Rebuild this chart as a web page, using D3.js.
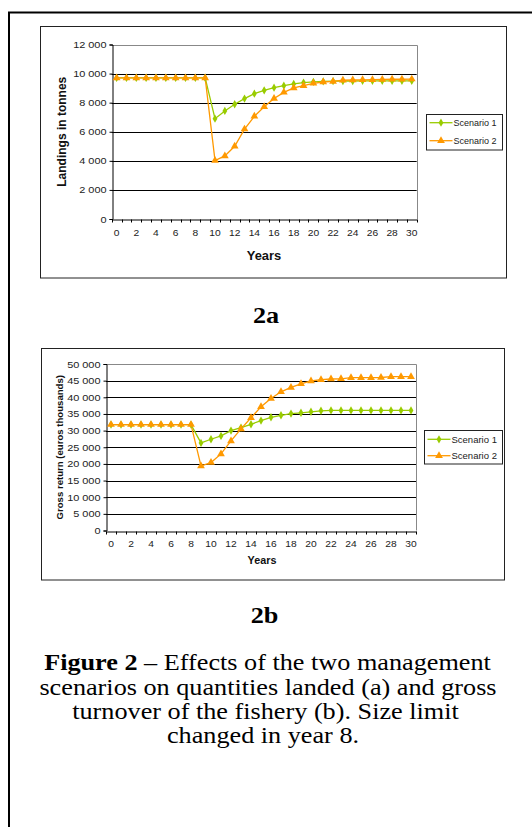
<!DOCTYPE html>
<html>
<head>
<meta charset="utf-8">
<script src="https://cdn.jsdelivr.net/npm/d3@7/dist/d3.min.js"></script>
<style>
  html, body { margin: 0; padding: 0; background: #fff; }
  svg { display: block; }
</style>
</head>
<body>
<svg id="fig" width="532" height="827"></svg>
<script>
// Years of the simulation (category axis)
const years = [0,1,2,3,4,5,6,7,8,9,10,11,12,13,14,15,16,17,18,19,20,21,22,23,24,25,26,27,28,29,30];
const yearTickLabels = [0,2,4,6,8,10,12,14,16,18,20,22,24,26,28,30];
const seriesNames = ["Scenario 1", "Scenario 2"];

// Panel (a): landings in tonnes
const landingsScenario1 = [9700,9700,9700,9700,9700,9700,9700,9700,9700,9700,
  6900,7430,7890,8280,8620,8850,9030,9170,9290,9380,9430,9460,9480,9490,9490,9500,9500,9500,9500,9500,9500];
const landingsScenario2 = [9700,9700,9700,9700,9700,9700,9700,9700,9700,9700,
  4020,4340,5000,6180,7060,7720,8290,8710,9010,9170,9330,9420,9460,9540,9560,9570,9580,9600,9610,9610,9620];
const landingsTicks = [0,2000,4000,6000,8000,10000,12000];

// Panel (b): gross return, euros thousands
const grossScenario1 = [31800,31800,31800,31800,31800,31800,31800,31800,31800,
  26300,27400,28400,30000,30900,31900,33000,34000,34600,35100,35350,35650,35950,36050,36050,36050,36050,36050,36050,36050,36050,36050];
const grossScenario2 = [31800,31800,31800,31800,31800,31800,31800,31800,31800,
  19400,20400,23000,26900,30500,33850,37150,39650,41650,42950,44050,44900,45300,45500,45550,45900,45900,45900,45950,46200,46200,46200];
const grossTicks = [0,5000,10000,15000,20000,25000,30000,35000,40000,45000,50000];

const colors = ["#99cc00", "#ff9900"];
const symbols = [d3.symbolDiamond, d3.symbolTriangle];
const sans = "Arial, 'Liberation Sans', sans-serif";
const serif = "'Times New Roman', 'Liberation Serif', serif";

const fmt = d3.formatLocale({decimal: ".", thousands: " ", grouping: [3], currency: ["", ""]}).format(",d");

// widen glyphs horizontally about each text's anchor point
function widen(sel, k) {
  sel.each(function () {
    const t = d3.select(this);
    const ax = +(t.attr("x") || 0);
    const prev = t.attr("transform") || "";
    t.attr("transform", `${prev} translate(${ax},0) scale(${k},1) translate(${-ax},0)`);
  });
}

const svg = d3.select("#fig");

// page frame
svg.append("rect").attr("x", 9).attr("y", 12.5).attr("width", 540).attr("height", 840)
  .attr("fill", "none").attr("stroke", "#000").attr("stroke-width", 2);

function drawPanel(cfg) {
  const g = svg.append("g");
  g.append("rect").attr("x", cfg.box[0]).attr("y", cfg.box[1]).attr("width", cfg.box[2]).attr("height", cfg.box[3])
    .attr("fill", "#fff").attr("stroke", "#222").attr("stroke-width", 1);

  const x = d3.scaleBand().domain(years).range([cfg.left, cfg.right]).paddingInner(0).paddingOuter(0);
  const y = d3.scaleLinear().domain([0, cfg.max]).range([cfg.bottom, cfg.top]);

  // gridlines
  g.append("g").selectAll("line").data(cfg.ticks.filter(t => t > 0 && t < cfg.max)).join("line")
    .attr("x1", cfg.left).attr("x2", cfg.right)
    .attr("y1", d => Math.round(y(d)) + 0.5).attr("y2", d => Math.round(y(d)) + 0.5)
    .attr("stroke", "#000").attr("stroke-width", 1);

  // plot-area border (top and right)
  g.append("path")
    .attr("d", `M${cfg.left},${Math.round(cfg.top)+0.5}H${Math.round(cfg.right)+0.5}V${cfg.bottom}`)
    .attr("fill", "none").attr("stroke", "#888").attr("stroke-width", 1);

  // y axis
  const yAxis = d3.axisLeft(y).tickValues(cfg.ticks).tickFormat(fmt).tickSize(3).tickPadding(3);
  const ya = g.append("g").attr("transform", `translate(${Math.round(cfg.left)+0.5},0)`).call(yAxis);
  ya.select(".domain").attr("stroke", "#000");
  ya.selectAll(".tick line").attr("stroke", "#000");
  ya.selectAll(".tick text").attr("font-family", sans).attr("font-size", cfg.tickFont).attr("fill", "#222");
  widen(ya.selectAll(".tick text"), 1.15);

  // x axis: labels every second year, tick marks on category boundaries
  const xAxis = d3.axisBottom(x).tickValues(yearTickLabels).tickSize(0).tickPadding(cfg.xPad);
  const xa = g.append("g").attr("transform", `translate(0,${Math.round(cfg.bottom)+0.5})`).call(xAxis);
  xa.select(".domain").attr("stroke", "#000");
  xa.selectAll(".tick text").attr("font-family", sans).attr("font-size", cfg.tickFont).attr("fill", "#222");
  widen(xa.selectAll(".tick text"), 1.08);
  const bounds = years.map(d => x(d)).concat([x(years[years.length - 1]) + x.bandwidth()]);
  xa.append("g").selectAll("line").data(bounds).join("line")
    .attr("x1", d => Math.round(d) + 0.5).attr("x2", d => Math.round(d) + 0.5)
    .attr("y1", 0).attr("y2", 3).attr("stroke", "#000");

  // axis titles
  g.append("text").attr("transform", `translate(${cfg.yTitleX},${(cfg.top + cfg.bottom) / 2}) rotate(-90)`)
    .attr("text-anchor", "middle").attr("dominant-baseline", "central")
    .attr("font-family", sans).attr("font-weight", "bold").attr("font-size", cfg.yTitleFont)
    .attr("fill", "#111").text(cfg.yTitle);
  const xt = g.append("text").attr("x", cfg.xTitleX).attr("y", cfg.xTitleY)
    .attr("text-anchor", "middle").attr("dominant-baseline", "central")
    .attr("font-family", sans).attr("font-weight", "bold").attr("font-size", cfg.xTitleFont)
    .attr("fill", "#111").text("Years");
  widen(xt, 1.08);

  // series
  const cx = d => x(d) + x.bandwidth() / 2;
  const line = d3.line().x((v, i) => cx(years[i])).y(v => y(v));
  cfg.series.forEach((vals, s) => {
    g.append("path").datum(vals).attr("d", line)
      .attr("fill", "none").attr("stroke", colors[s]).attr("stroke-width", 1.3);
  });
  cfg.series.forEach((vals, s) => {
    g.append("g").selectAll("path").data(vals).join("path")
      .attr("transform", (v, i) => `translate(${cx(years[i])},${y(v)})`)
      .attr("d", d3.symbol().type(symbols[s]).size(s === 0 ? 20 : 26))
      .attr("fill", colors[s]);
  });

  // legend
  const L = cfg.legend;
  g.append("rect").attr("x", L.x).attr("y", L.y).attr("width", L.w).attr("height", L.h)
    .attr("fill", "#fff").attr("stroke", "#222").attr("stroke-width", 1);
  seriesNames.forEach((name, s) => {
    const ly = L.rows[s];
    g.append("line").attr("x1", L.x + 3).attr("x2", L.x + 26).attr("y1", ly).attr("y2", ly)
      .attr("stroke", colors[s]).attr("stroke-width", 1.3);
    g.append("path").attr("transform", `translate(${L.x + 14.5},${ly})`)
      .attr("d", d3.symbol().type(symbols[s]).size(s === 0 ? 20 : 26)).attr("fill", colors[s]);
    g.append("text").attr("x", L.x + 27).attr("y", ly).attr("dominant-baseline", "central")
      .attr("font-family", sans).attr("font-size", L.font).attr("fill", "#222").text(name);
  });
}

drawPanel({
  box: [40.5, 26.5, 466, 251.5],
  left: 111.7, right: 416.7, top: 44.5, bottom: 219,
  max: 12000, ticks: landingsTicks, tickFont: "9.5px", xPad: 10,
  series: [landingsScenario1, landingsScenario2],
  yTitle: "Landings in tonnes", yTitleX: 61.5, yTitleFont: "12px",
  xTitleX: 264, xTitleY: 256, xTitleFont: "12px",
  legend: {x: 426.5, y: 114.5, w: 76, h: 35.5, rows: [122.7, 140.7], font: "9px"}
});

drawPanel({
  box: [41.5, 348.5, 463, 231.5],
  left: 106, right: 416, top: 364, bottom: 530.5,
  max: 50000, ticks: grossTicks, tickFont: "9.5px", xPad: 9,
  series: [grossScenario1, grossScenario2],
  yTitle: "Gross return (euros thousands)", yTitleX: 59.5, yTitleFont: "9.6px",
  xTitleX: 262, xTitleY: 561, xTitleFont: "10px",
  legend: {x: 424.5, y: 430.5, w: 78, h: 33.5, rows: [439.3, 455.7], font: "9.5px"}
});

// panel labels and caption
const cap = svg.append("g").attr("font-family", serif).attr("fill", "#000").attr("text-anchor", "middle");
const panelLabels = [
  {x: 266, y: 323, text: "2a"},
  {x: 264.5, y: 623, text: "2b"}
];
panelLabels.forEach(c => {
  cap.append("text").attr("x", c.x).attr("y", c.y).attr("font-size", "23px")
    .attr("font-weight", "bold").text(c.text);
});
const l1 = cap.append("text").attr("x", 267.5).attr("y", 670.5).attr("font-size", "23px");
l1.append("tspan").attr("font-weight", "bold").text("Figure 2");
l1.append("tspan").text(" \u2013 Effects of the two management");
cap.append("text").attr("x", 268).attr("y", 695).attr("font-size", "23px").text("scenarios on quantities landed (a) and gross");
cap.append("text").attr("x", 265.5).attr("y", 719.3).attr("font-size", "23px").text("turnover of the fishery (b). Size limit");
cap.append("text").attr("x", 263).attr("y", 743.3).attr("font-size", "23px").text("changed in year 8.");
widen(cap.selectAll("text"), 1.14);
</script>
</body>
</html>
